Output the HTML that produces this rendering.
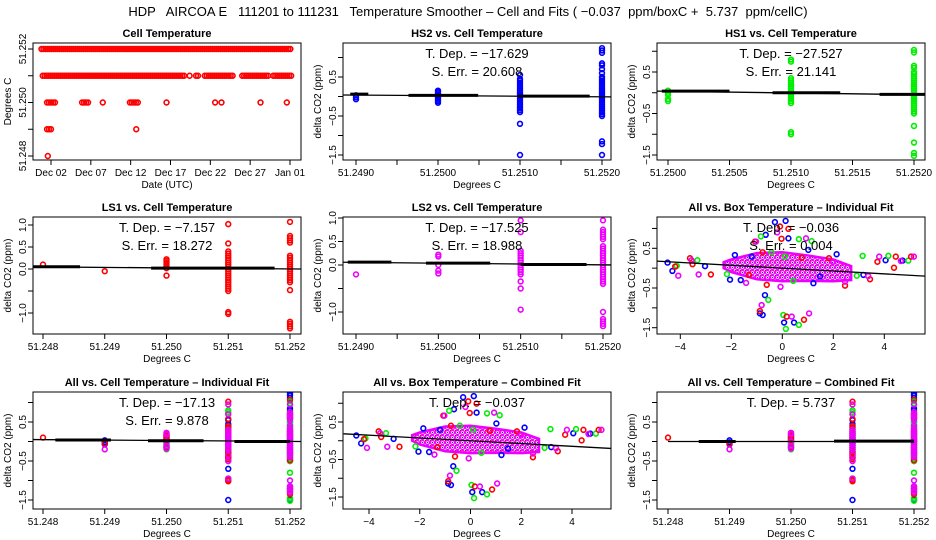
<!DOCTYPE html>
<html><head><meta charset="utf-8"><style>
html,body{margin:0;padding:0;background:#fff;}
svg{display:block;font-family:"Liberation Sans",sans-serif;}
</style></head><body>
<svg id="chart" width="936" height="540" viewBox="0 0 936 540" xmlns="http://www.w3.org/2000/svg">
<defs>
<pattern id="cloudPat" width="5" height="5" patternUnits="userSpaceOnUse">
<rect width="5" height="5" fill="#ffffff"/>
<circle cx="2.5" cy="2.5" r="2" fill="none" stroke="#ee00ff" stroke-width="1.3"/>
<rect x="2" y="2" width="1" height="1" fill="#2020ff"/>
<rect x="0" y="0" width="1" height="1" fill="#ff0000"/>
</pattern>
</defs>
<rect width="936" height="540" fill="#fff"/>
<text x="468" y="16" text-anchor="middle" font-size="13" style="white-space:pre" xml:space="preserve">HDP   AIRCOA E   111201 to 111231   Temperature Smoother – Cell and Fits ( −0.037  ppm/boxC +  5.737  ppm/cellC)</text>
</svg>
<script>
// ---------- data ----------
const cellLevels = [51.252, 51.251, 51.250, 51.249, 51.248];
const cellRuns = [
  [[0.8,32.2]],
  [[0.96,18.9],[19.4,19.4],[20.2,20.5],[21.3,24.9],[26,29.3],[29.9,32.2]],
  [[1.5,2.7],[5.9,6.8],[8.5,8.5],[11.9,13.1],[16.5,16.5],[22.6,22.6],[23.4,23.4],[28.3,28.3],[31.6,31.6]],
  [[1.5,2.0],[12.7,12.7]],
  [[1.6,1.6]]
];
const dateTickDays = [2,7,12,17,22,27,32];
const dateTickLabels = ["Dec 02","Dec 07","Dec 12","Dec 17","Dec 22","Dec 27","Jan 01"];

const hs2X = [51.249, 51.250, 51.251, 51.252];
const hs2Y = [
  [0.03,-0.02,-0.07],
  [0.15,0.12,0.08,0.04,0,-0.04,-0.08,-0.12,-0.16],
  [0.55,0.45,0.4,0.35,0.3,0.25,0.2,0.15,0.1,0.05,0,-0.05,-0.1,-0.15,-0.2,-0.25,-0.3,-0.35,-0.4,-0.7,-1.5],
  [1.24,1.18,1.12,0.85,0.8,0.7,0.6,0.5,0.45,0.4,0.35,0.3,0.25,0.2,0.15,0.1,0.05,0,-0.05,-0.1,-0.15,-0.2,-0.25,-0.3,-0.35,-0.4,-0.45,-0.5,-1.15,-1.22,-1.5]
];
const hs1X = [51.250, 51.251, 51.252];
const hs1Y = [
  [0.05,0,-0.05,-0.15,-0.2],
  [0.8,0.75,0.35,0.3,0.25,0.2,0.15,0.1,0.05,0,-0.05,-0.1,-0.15,-0.2,-0.25,-0.95,-1.0],
  [1.03,0.97,0.65,0.6,0.5,0.45,0.4,0.35,0.3,0.25,0.2,0.15,0.1,0.05,0,-0.05,-0.1,-0.15,-0.2,-0.25,-0.3,-0.35,-0.4,-0.45,-0.5,-0.8,-1.2,-1.45,-1.52]
];
const ls1X = [51.248, 51.249, 51.250, 51.251, 51.252];
const ls1Y = [
  [0.1],
  [-0.05],
  [0.22,0.18,0.14,0.1,0.06,0.02,-0.15],
  [1.02,0.58,0.4,0.35,0.3,0.25,0.2,0.15,0.1,0.05,0,-0.05,-0.1,-0.15,-0.2,-0.25,-0.3,-0.35,-0.4,-0.45,-0.5,-0.98,-1.02],
  [1.07,0.75,0.7,0.65,0.6,0.3,0.25,0.2,0.15,0.1,0.05,0,-0.05,-0.1,-0.15,-0.2,-0.25,-0.3,-0.48,-1.2,-1.25,-1.3,-1.35]
];
const ls2X = [51.249, 51.250, 51.251, 51.252];
const ls2Y = [
  [-0.2],
  [0.22,0.18,0,-0.12,-0.18],
  [0.95,0.7,0.3,0.25,0.2,0.15,0.1,0.05,0,-0.05,-0.1,-0.15,-0.2,-0.35,-0.5,-0.95],
  [0.95,0.75,0.7,0.65,0.6,0.55,0.4,0.35,0.3,0.25,0.2,0.15,0.1,0.05,0,-0.05,-0.1,-0.15,-0.2,-0.25,-0.3,-0.35,-0.4,-1.0,-1.15,-1.2,-1.25,-1.3]
];

const boxBlue = [[-4.5,0.14],[-4.31,-0.07],[-3.03,0.05],[-2.05,-0.29],[-1.86,0.33],[-1.63,-0.3],[-1.2,0.29],[-0.65,0.84],[-0.29,1.16],[0.13,1.19],[0.24,0.75],[1.02,0.46],[1.22,-0.38],[2.13,0.35],[4.05,0.2],[4.72,0.19],[-0.68,-0.68],[-0.88,-1.14],[-0.77,-1.18],[0.07,-1.37],[0.46,-1.37],[3.18,-0.17],[1.48,-0.21]];
const boxGreen = [[-4.14,0.06],[-3.33,0.2],[-2.17,-0.15],[-0.84,0.8],[-0.55,-0.8],[-0.42,0.4],[0.65,0.73],[1.15,0.68],[3.15,0.31],[4.16,0.31],[4.94,0.19],[0.04,-1.18],[0.14,-1.53],[0.65,-1.43],[0.43,-0.32],[2.92,-0.19],[0.1,0.29]];
const boxRed = [[-4.2,0.04],[-3.62,0.25],[-3.52,0.1],[-2.8,-0.16],[-1.31,-0.17],[-1.07,0.67],[-0.77,0.4],[-0.09,1.05],[-0.03,0.74],[0.24,0.99],[0.76,0.26],[1.83,0.25],[2.46,-0.44],[3.73,0.16],[4.38,0.01],[4.45,0.29],[5.05,0.29],[-0.88,-1.08],[0.85,-1.3],[0.17,-1.22],[-0.61,-0.42],[3.44,-0.28]];
const boxMagenta = [[-4.08,-0.19],[-3.28,-0.16],[-1.42,-0.37],[-1.03,0.67],[-0.81,-0.93],[-0.2,0.9],[-0.07,-0.47],[0.93,0.75],[1.05,-1.14],[0.37,-1.22],[2.0,0.16],[3.37,-0.2],[3.8,0.29],[4.65,0.18],[5.16,0.29],[-3.56,0.2],[2.46,-0.34]];
const boxCloud = [[-2.3,0.15],[-2,0.22],[-1.5,0.3],[-1,0.38],[0,0.4],[1,0.32],[2,0.22],[2.7,0.05],[2.7,-0.3],[2,-0.33],[1,-0.32],[0,-0.33],[-1,-0.28],[-2,-0.1],[-2.3,0.0]];
const boxFitSlopes = [-0.036, -0.037];
const annotations = [
  ["T. Dep. =  −17.629","S. Err. =  20.608"],
  ["T. Dep. =  −27.527","S. Err. =  21.141"],
  ["T. Dep. =  −7.157","S. Err. =  18.272"],
  ["T. Dep. =  −17.525","S. Err. =  18.988"],
  ["T. Dep. =  −0.036","S. Err. =  0.004"],
  ["T. Dep. =  −17.13","S. Err. =  9.878"],
  ["T. Dep. =  −0.037"],
  ["T. Dep. =  5.737"]
];

// ---------- drawing ----------
const svg = document.getElementById('chart');
const NS = 'http://www.w3.org/2000/svg';
const COL = {red:'#ff0000',blue:'#0000ff',green:'#00ee00',magenta:'#ee00ff'};
function mk(tag, attrs, parent){
  const e = document.createElementNS(NS, tag);
  for (const k in attrs) e.setAttribute(k, attrs[k]);
  (parent||svg).appendChild(e);
  return e;
}
function lin(a,pa,b,pb){ return v => pa + (v-a)*(pb-pa)/(b-a); }

function panel(o){
  const g = mk('g', {});
  
  
  const L=o.left, T=o.top, W=o.w, H=o.h;
  const fx = lin(o.xa,o.pxa,o.xb,o.pxb), fy = lin(o.ya,o.pya,o.yb,o.pyb);
  o.fx=fx; o.fy=fy; o.g=g;
  const t = mk('text', {x:L+W/2, y:T-6, 'text-anchor':'middle','font-size':11,'font-weight':'bold'}, g);
  t.textContent = o.title;
  
  
  const clip = 'c'+o.name;
  const cp = mk('clipPath', {id:clip}, g);
  mk('rect', {x:L,y:T,width:W,height:H}, cp);
  o.plot = mk('g', {'clip-path':'url(#'+clip+')'}, g);
  
  
  const box = mk('rect', {x:L,y:T,width:W,height:H,fill:'none',stroke:'#000','stroke-width':1}, g);
  
  
  const xax = mk('g', {}, g);
  
  
  const xt = o.xticks;
  mk('line', {x1:fx(xt[0]),x2:fx(xt[xt.length-1]),y1:T+H,y2:T+H,stroke:'#000'}, xax);
  xt.forEach((v,i)=>{
    mk('line', {x1:fx(v),x2:fx(v),y1:T+H,y2:T+H+5,stroke:'#000'}, xax);
    const lab = o.xlabels[i];
    if (lab){
      const tx = mk('text', {x:fx(v), y:T+H+16,'text-anchor':'middle','font-size':10}, xax);
      tx.textContent = lab;
      
      
    }
  });
  const xtl = mk('text', {x:L+W/2, y:T+H+28,'text-anchor':'middle','font-size':10}, xax);
  xtl.textContent = o.xtitle;
  
  
  const yax = mk('g', {}, g);
  
  
  const yt = o.yticks;
  mk('line', {x1:L,x2:L,y1:fy(yt[0]),y2:fy(yt[yt.length-1]),stroke:'#000'}, yax);
  yt.forEach((v,i)=>{
    mk('line', {x1:L-5,x2:L,y1:fy(v),y2:fy(v),stroke:'#000'}, yax);
    const lab = o.ylabels[i];
    if (lab){
      const tx = mk('text', {x:0,y:0,'text-anchor':'middle','font-size':10,transform:'translate('+(L-7)+','+fy(v)+') rotate(-90)'}, yax);
      tx.textContent = lab;
      
      
    }
  });
  const ytl = mk('text', {x:0,y:0,'text-anchor':'middle','font-size':10,transform:'translate('+(L-22)+','+(T+H/2)+') rotate(-90)'}, yax);
  ytl.textContent = o.ytitle;
  
  
  return o;
}
function pt(o, x, y, color){
  const c = mk('circle', {cx:o.fx(x), cy:o.fy(y), r:2.4, fill:'none', stroke:COL[color], 'stroke-width':1.6}, o.plot);
  
  
}
function discrete(o, xs, ys, color){
  xs.forEach((x,i)=> ys[i].forEach(y=> pt(o,x,y,color)));
}
function fit(o, x0,y0,x1,y1, segs){
  const l = mk('line', {x1:o.fx(x0),y1:o.fy(y0),x2:o.fx(x1),y2:o.fy(y1),stroke:'#000','stroke-width':1.3}, o.plot);
  
  
  (segs||[]).forEach(s=>{
    const t = mk('line', {x1:o.fx(s[0]),y1:o.fy(s[2]),x2:o.fx(s[1]),y2:o.fy(s[2]),stroke:'#000','stroke-width':3}, o.plot);
    
    
  });
}
function annot(o, lines){
  lines.forEach((s,i)=>{
    const t = mk('text', {x:o.left+o.w/2, y:o.top+15+i*18,'text-anchor':'middle','font-size':13}, o.g);
    t.textContent = s;
    
    
  });
}

const lefts=[33,343,657], tops=[43,217,392], W=268, H=117;
const dTicks=[-1.5,-1,-0.5,0,0.5,1], dLabs=['−1.5','','−0.5','','0.5',''];
const lsTicks=[-1,-0.5,0,0.5,1], lsLabs=['−1.0','','0.0','0.5','1.0'];
const cell3=[51.248,51.249,51.250,51.251,51.252], cell3L=['51.248','51.249','51.250','51.251','51.252'];
const cell4=[51.249,51.2495,51.250,51.2505,51.251,51.2515,51.252], cell4L=['51.2490','','51.2500','','51.2510','','51.2520'];
const box4=[-4,-2,0,2,4], box4L=['−4','−2','0','2','4'];

const p1 = panel({name:'cell-temperature-panel',title:'Cell Temperature',left:lefts[0],top:tops[0],w:W,h:H,
  xa:2,pxa:51,xb:32,pxb:290, ya:51.252,pya:49,yb:51.248,pyb:156,
  xticks:dateTickDays,xlabels:dateTickLabels,xtitle:'Date (UTC)',
  yticks:[51.248,51.249,51.250,51.251,51.252],ylabels:['51.248','','51.250','','51.252'],ytitle:'Degrees C'});
cellLevels.forEach((lv,i)=> cellRuns[i].forEach(r=>{
  for (let d=r[0]; d<=r[1]+1e-9; d+=0.25) pt(p1,d,lv,'red');
}));

const p2 = panel({name:'hs2-panel',title:'HS2 vs. Cell Temperature',left:lefts[1],top:tops[0],w:W,h:H,
  xa:51.249,pxa:356,xb:51.252,pxb:602, ya:0.5,pya:77,yb:-1.5,pyb:155,
  xticks:cell4,xlabels:cell4L,xtitle:'Degrees C',yticks:dTicks,ylabels:dLabs,ytitle:'delta CO2 (ppm)'});
discrete(p2,hs2X,hs2Y,'blue');
fit(p2,51.2488,0.04,51.2522,-0.01,[[51.24893,51.24915,0.06],[51.24964,51.25049,0.03],[51.25098,51.25185,0.01]]);
annot(p2,annotations[0]);

const p3 = panel({name:'hs1-panel',title:'HS1 vs. Cell Temperature',left:lefts[2],top:tops[0],w:W,h:H,
  xa:51.250,pxa:668,xb:51.252,pxb:914, ya:0.5,pya:72,yb:-1.5,pyb:155,
  xticks:[51.250,51.2505,51.251,51.2515,51.252],xlabels:['51.2500','51.2505','51.2510','51.2515','51.2520'],
  xtitle:'Degrees C',yticks:dTicks,ylabels:dLabs,ytitle:'delta CO2 (ppm)'});
discrete(p3,hs1X,hs1Y,'green');
fit(p3,51.2499,0.04,51.2521,-0.05,[[51.24995,51.2505,0.04],[51.25085,51.2514,0.0],[51.25172,51.2521,-0.04]]);
annot(p3,annotations[1]);

const p4 = panel({name:'ls1-panel',title:'LS1 vs. Cell Temperature',left:lefts[0],top:tops[1],w:W,h:H,
  xa:51.248,pxa:43,xb:51.252,pxb:290, ya:1,pya:225,yb:-1,pyb:313,
  xticks:cell3,xlabels:cell3L,xtitle:'Degrees C',yticks:lsTicks,ylabels:lsLabs,ytitle:'delta CO2 (ppm)'});
discrete(p4,ls1X,ls1Y,'red');
fit(p4,51.2478,0.05,51.2522,0.0,[[51.2478,51.2486,0.05],[51.24975,51.25175,0.02]]);
annot(p4,annotations[2]);

const p5 = panel({name:'ls2-panel',title:'LS2 vs. Cell Temperature',left:lefts[1],top:tops[1],w:W,h:H,
  xa:51.249,pxa:356,xb:51.252,pxb:603, ya:1,pya:218,yb:-1,pyb:312,
  xticks:cell4,xlabels:cell4L,xtitle:'Degrees C',yticks:lsTicks,ylabels:lsLabs,ytitle:'delta CO2 (ppm)'});
discrete(p5,ls2X,ls2Y,'magenta');
fit(p5,51.2488,0.06,51.2522,0.0,[[51.2489,51.24943,0.06],[51.24985,51.25063,0.04],[51.251,51.2518,0.01]]);
annot(p5,annotations[3]);

function boxPanel(o, slope){
  const poly = mk('polygon', {points: boxCloud.map(p=>o.fx(p[0])+','+o.fy(p[1])).join(' '), fill:'url(#cloudPat)', stroke:'#ee00ff','stroke-width':2.5}, o.plot);
  
  
  boxBlue.forEach(p=>pt(o,p[0],p[1],'blue'));
  boxGreen.forEach(p=>pt(o,p[0],p[1],'green'));
  boxRed.forEach(p=>pt(o,p[0],p[1],'red'));
  boxMagenta.forEach(p=>pt(o,p[0],p[1],'magenta'));
  fit(o,-5,-5*slope,6,6*slope,[]);
}
const p6 = panel({name:'box-individual-fit-panel',title:'All vs. Box Temperature – Individual Fit',left:lefts[2],top:tops[1],w:W,h:H,
  xa:0,pxa:782.3,xb:2,pxb:833.3, ya:0.5,pya:248.3,yb:-1.5,pyb:327.7,
  xticks:box4,xlabels:box4L,xtitle:'Degrees C',yticks:dTicks,ylabels:dLabs,ytitle:'delta CO2 (ppm)'});
annot(p6,annotations[4]);
boxPanel(p6,boxFitSlopes[0]);

function allCell(o){
  discrete(o,hs2X,hs2Y,'blue');
  discrete(o,hs1X,hs1Y,'green');
  discrete(o,ls1X,ls1Y,'red');
  discrete(o,ls2X,ls2Y,'magenta');
}
const p7 = panel({name:'cell-individual-fit-panel',title:'All vs. Cell Temperature – Individual Fit',left:lefts[0],top:tops[2],w:W,h:H,
  xa:51.248,pxa:43,xb:51.252,pxb:290, ya:0.5,pya:422,yb:-1.5,pyb:500,
  xticks:cell3,xlabels:cell3L,xtitle:'Degrees C',yticks:dTicks,ylabels:dLabs,ytitle:'delta CO2 (ppm)'});
allCell(p7);
fit(p7,51.2478,0.05,51.2522,0.0,[[51.2482,51.2491,0.04],[51.2497,51.2506,0.02],[51.2511,51.252,0.0]]);
annot(p7,annotations[5]);

const p8 = panel({name:'box-combined-fit-panel',title:'All vs. Box Temperature – Combined Fit',left:lefts[1],top:tops[2],w:W,h:H,
  xa:0,pxa:470.5,xb:4,pxb:572, ya:0.5,pya:422,yb:-1.5,pyb:497,
  xticks:box4,xlabels:box4L,xtitle:'Degrees C',yticks:dTicks,ylabels:dLabs,ytitle:'delta CO2 (ppm)'});
annot(p8,annotations[6]);
boxPanel(p8,boxFitSlopes[1]);

const p9 = panel({name:'cell-combined-fit-panel',title:'All vs. Cell Temperature – Combined Fit',left:lefts[2],top:tops[2],w:W,h:H,
  xa:51.248,pxa:668,xb:51.252,pxb:914, ya:0.5,pya:422,yb:-1.5,pyb:500,
  xticks:cell3,xlabels:cell3L,xtitle:'Degrees C',yticks:dTicks,ylabels:dLabs,ytitle:'delta CO2 (ppm)'});
allCell(p9);
fit(p9,51.248,0.0,51.252,0.0,[[51.2485,51.2491,0.0],[51.2507,51.252,0.01]]);
annot(p9,annotations[7]);
</script>
</body></html>
